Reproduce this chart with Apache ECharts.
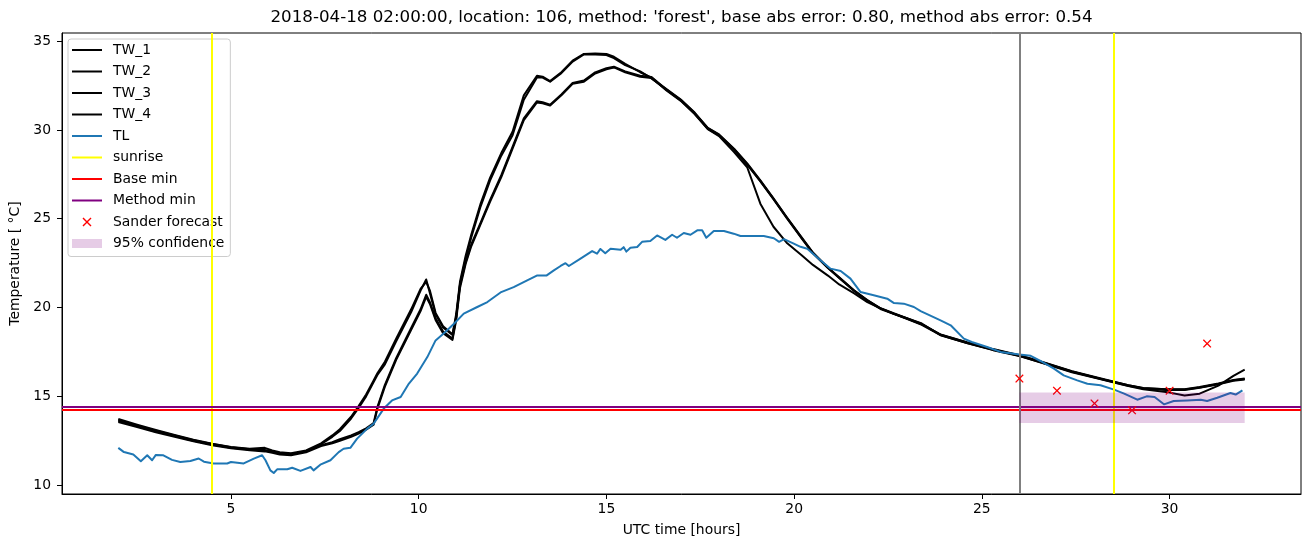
<!DOCTYPE html>
<html><head><meta charset="utf-8">
<script src="https://cdn.jsdelivr.net/npm/echarts@6/dist/echarts.min.js"></script>
<style>html,body{margin:0;padding:0;background:#fff}#c{width:1310px;height:547px}</style>
</head><body><div id="c"></div>
<script>
// ---------------- data ----------------
const titleText = "2018-04-18 02:00:00, location: 106, method: 'forest', base abs error: 0.80, method abs error: 0.54";
const xTicks = [5, 10, 15, 20, 25, 30];
const yTicks = [10, 15, 20, 25, 30, 35];

const twHours = [2.0, 2.5, 3.0, 3.5, 4.0, 4.5, 5.0, 5.5, 5.9, 6.1, 6.3, 6.6, 7.0, 7.4, 7.7, 7.9, 8.2, 8.4, 8.6, 8.8, 8.9, 9.1, 9.4, 9.8, 10.05, 10.2, 10.3, 10.45, 10.65, 10.9, 11.0, 11.1, 11.25, 11.4, 11.65, 11.9, 12.2, 12.5, 12.8, 13.15, 13.3, 13.5, 13.8, 14.1, 14.4, 14.7, 15.0, 15.2, 15.5, 15.9, 16.2, 16.6, 17.0, 17.35, 17.7, 18.0, 18.4, 18.75, 19.1, 19.45, 19.8, 20.2, 20.5, 20.9, 21.2, 21.6, 21.95, 22.3, 22.65, 23.0, 23.4, 23.9, 24.6, 25.3, 26.0, 26.7, 27.4, 28.2, 28.9, 29.3, 29.9, 30.4, 30.8, 31.3, 31.7, 32.0];

const tw1 = [13.62, 13.32, 13.02, 12.76, 12.5, 12.28, 12.1, 12.0, 11.93, 11.88, 11.78, 11.72, 11.9, 12.3, 12.72, 13.05, 13.75, 14.35, 15.0, 15.8, 16.2, 16.8, 18.1, 19.75, 20.95, 21.58, 20.8, 19.62, 18.88, 18.45, 19.65, 21.45, 22.9, 24.1, 25.85, 27.3, 28.7, 29.9, 31.95, 33.05, 33.0, 32.75, 33.25, 33.9, 34.28, 34.3, 34.28, 34.12, 33.72, 33.25, 32.95, 32.22, 31.6, 30.9, 30.05, 29.65, 28.75, 27.9, 25.85, 24.55, 23.65, 22.95, 22.4, 21.8, 21.3, 20.8, 20.3, 19.95, 19.65, 19.4, 19.1, 18.45, 18.0, 17.62, 17.28, 16.82, 16.36, 15.94, 15.58, 15.4, 15.25, 15.05, 15.15, 15.6, 16.15, 16.5];

const tw2 = [13.72, 13.4, 13.1, 12.82, 12.56, 12.33, 12.15, 12.05, 12.1, 11.95, 11.85, 11.8, 11.95, 12.35, 12.8, 13.15, 13.85, 14.45, 15.1, 15.9, 16.3, 16.95, 18.25, 19.9, 21.05, 21.45, 20.95, 19.7, 18.95, 18.5, 19.5, 21.3, 22.75, 23.95, 25.7, 27.15, 28.55, 29.7, 31.7, 32.95, 32.95, 32.72, 33.2, 33.85, 34.25, 34.25, 34.22, 34.05, 33.65, 33.3, 32.9, 32.3, 31.68, 30.98, 30.12, 29.75, 28.95, 28.12, 27.16, 26.15, 25.1, 23.95, 23.1, 22.25, 21.68, 20.95, 20.4, 19.95, 19.66, 19.38, 19.05, 18.48, 18.05, 17.66, 17.32, 16.88, 16.42, 15.99, 15.62, 15.46, 15.4, 15.4, 15.52, 15.72, 15.92, 16.0];

const tw3 = [13.55, 13.27, 12.98, 12.72, 12.47, 12.25, 12.08, 11.96, 11.9, 11.82, 11.72, 11.68, 11.85, 12.2, 12.35, 12.5, 12.72, 12.9, 13.12, 13.4, 14.3, 15.55, 17.05, 18.75, 19.8, 20.6, 20.2, 19.3, 18.55, 18.18, 19.3, 21.1, 22.45, 23.45, 24.7, 25.95, 27.35, 28.95, 30.55, 31.55, 31.5, 31.38, 31.95, 32.6, 32.72, 33.18, 33.42, 33.52, 33.25, 33.0, 32.92, 32.25, 31.63, 30.92, 30.06, 29.7, 28.88, 28.05, 27.1, 26.1, 25.05, 23.9, 23.05, 22.22, 21.66, 20.93, 20.38, 19.92, 19.64, 19.36, 19.03, 18.44, 18.0, 17.6, 17.27, 16.83, 16.38, 15.96, 15.6, 15.44, 15.36, 15.36, 15.48, 15.68, 15.88, 15.95];

const tw4 = [13.66, 13.36, 13.06, 12.79, 12.53, 12.31, 12.13, 12.02, 11.98, 11.9, 11.8, 11.75, 11.9, 12.25, 12.42, 12.58, 12.8, 12.98, 13.2, 13.5, 14.4, 15.65, 17.15, 18.85, 19.9, 20.72, 20.3, 19.4, 18.65, 18.25, 19.45, 21.25, 22.55, 23.55, 24.78, 26.05, 27.45, 29.05, 30.65, 31.62, 31.56, 31.42, 32.0, 32.65, 32.78, 33.24, 33.48, 33.56, 33.3, 33.05, 32.98, 32.28, 31.66, 30.95, 30.1, 29.72, 28.92, 28.08, 27.13, 26.12, 25.08, 23.92, 23.08, 22.24, 21.7, 20.96, 20.42, 19.96, 19.68, 19.4, 19.07, 18.47, 18.03, 17.64, 17.3, 16.86, 16.4, 15.97, 15.63, 15.47, 15.4, 15.38, 15.5, 15.7, 15.9, 15.97];

const tlHours = [2.0, 2.15, 2.4, 2.6, 2.77, 2.9, 3.0, 3.2, 3.43, 3.65, 3.92, 4.14, 4.28, 4.54, 4.9, 5.0, 5.34, 5.61, 5.83, 5.92, 6.05, 6.14, 6.23, 6.5, 6.63, 6.85, 7.12, 7.2, 7.38, 7.65, 7.87, 8.0, 8.18, 8.36, 8.63, 8.8, 9.07, 9.29, 9.52, 9.74, 9.96, 10.23, 10.45, 10.71, 10.94, 11.2, 11.56, 11.83, 12.18, 12.53, 12.89, 13.16, 13.41, 13.6, 13.78, 13.91, 14.0, 14.31, 14.62, 14.75, 14.84, 14.97, 15.11, 15.38, 15.46, 15.53, 15.64, 15.82, 15.95, 16.17, 16.35, 16.57, 16.75, 16.88, 17.06, 17.24, 17.42, 17.55, 17.66, 17.86, 18.13, 18.39, 18.57, 19.19, 19.46, 19.6, 19.73, 19.99, 20.17, 20.35, 20.7, 20.97, 21.24, 21.5, 21.77, 22.12, 22.48, 22.66, 22.92, 23.19, 23.37, 23.9, 24.17, 24.52, 24.73, 25.14, 25.5, 26.0, 26.3, 26.56, 26.92, 27.18, 27.54, 27.81, 28.16, 28.52, 28.79, 29.14, 29.39, 29.6, 29.85, 30.11, 30.47, 30.83, 31.0, 31.27, 31.62, 31.76, 31.94];
const tlTemps = [12.1, 11.86, 11.72, 11.35, 11.68, 11.4, 11.7, 11.68, 11.42, 11.3, 11.36, 11.5, 11.32, 11.22, 11.22, 11.3, 11.22, 11.49, 11.68, 11.4, 10.83, 10.68, 10.89, 10.89, 10.98, 10.8, 11.02, 10.83, 11.15, 11.4, 11.86, 12.05, 12.1, 12.62, 13.18, 13.46, 14.31, 14.77, 14.96, 15.72, 16.28, 17.21, 18.15, 18.62, 19.09, 19.66, 20.03, 20.31, 20.85, 21.15, 21.53, 21.81, 21.81, 22.09, 22.34, 22.5, 22.34, 22.75, 23.18, 23.03, 23.3, 23.06, 23.31, 23.25, 23.4, 23.15, 23.37, 23.41, 23.7, 23.75, 24.06, 23.81, 24.1, 23.93, 24.2, 24.1, 24.35, 24.35, 23.93, 24.31, 24.31, 24.16, 24.03, 24.03, 23.9, 23.7, 23.85, 23.6, 23.42, 23.31, 22.66, 22.19, 22.06, 21.63, 20.87, 20.69, 20.5, 20.25, 20.22, 20.03, 19.8, 19.28, 19.0, 18.25, 18.06, 17.78, 17.5, 17.35, 17.28, 16.99, 16.56, 16.18, 15.9, 15.71, 15.62, 15.38, 15.15, 14.81, 15.0, 14.96, 14.55, 14.74, 14.77, 14.81, 14.74, 14.92, 15.19, 15.1, 15.34];

const sunriseHours = [4.5, 28.5];
const forecastStartHour = 26;
const baseMin = 14.23;
const methodMin = 14.44;
const forecastHours = [26, 27, 28, 29, 30, 31];
const forecastTemps = [16.0, 15.32, 14.6, 14.21, 15.32, 17.97];
const confHours = [26, 32];
const confTemps = [13.5, 15.22];

// ---------------- chart ----------------
const FONT = 'DejaVu Sans';
const pairs = (xs, ys) => xs.map((x, i) => [x, ys[i]]);
const lineIcon = 'path://M0,0 L30,0 L30,2 L0,2 Z';
const xPath = 'path://M0,1.1 L1.1,0 L5,3.9 L8.9,0 L10,1.1 L6.1,5 L10,8.9 L8.9,10 L5,6.1 L1.1,10 L0,8.9 L3.9,5 Z';
const bandColor = 'rgba(128,0,128,0.2)';

function twSeries(name, ys) {
  return {
    name, type: 'line', data: pairs(twHours, ys), symbol: 'none', z: 2,
    itemStyle: { color: '#000000' },
    lineStyle: { color: '#000000', width: 2, join: 'round' },
    animation: false
  };
}
function markLineSeries(name, color, lines, z) {
  return {
    name, type: 'line', data: [], symbol: 'none', z: z,
    itemStyle: { color }, lineStyle: { color, width: 2 },
    markLine: {
      silent: true, symbol: ['none', 'none'], label: { show: false }, z: z,
      lineStyle: { color, width: 2, type: 'solid' },
      data: lines
    },
    animation: false
  };
}

const chart = echarts.init(document.getElementById('c'), null, { renderer: 'canvas' });
chart.setOption({
  animation: false,
  backgroundColor: '#ffffff',
  title: {
    text: titleText, left: 681.5, top: 9, textAlign: 'center', padding: 0,
    textStyle: { fontFamily: FONT, fontSize: 16.7, fontWeight: 'normal', color: '#000' }
  },
  grid: { left: 62, right: 9, top: 33, bottom: 53, show: true, borderColor: '#000', borderWidth: 1, backgroundColor: 'transparent' },
  legend: {
    orient: 'vertical', left: 68, top: 39, padding: [4, 6, 6, 4],
    itemWidth: 30, itemHeight: 9, itemGap: 7.5,
    backgroundColor: 'rgba(255,255,255,0.8)', borderColor: '#cccccc', borderWidth: 1, borderRadius: 3,
    textStyle: { fontFamily: FONT, fontSize: 13.9, color: '#000', lineHeight: 14, padding: [0, 0, 0, 6] },
    selectedMode: false,
    data: [
      { name: 'TW_1', icon: lineIcon }, { name: 'TW_2', icon: lineIcon },
      { name: 'TW_3', icon: lineIcon }, { name: 'TW_4', icon: lineIcon },
      { name: 'TL', icon: lineIcon }, { name: 'sunrise', icon: lineIcon },
      { name: 'Base min', icon: lineIcon }, { name: 'Method min', icon: lineIcon },
      { name: 'Sander forecast', icon: xPath }, { name: '95% confidence', icon: 'rect' }
    ]
  },
  xAxis: {
    type: 'value', min: 0.5, max: 33.5,
    splitLine: { show: false },
    axisLine: { show: true, onZero: false, lineStyle: { color: '#000', width: 1 } },
    axisTick: { show: true, length: 5, lineStyle: { color: '#000', width: 1 }, customValues: xTicks },
    axisLabel: { customValues: xTicks, color: '#000', fontSize: 13.9, fontFamily: FONT, margin: 8 },
    name: 'UTC time [hours]', nameLocation: 'middle', nameGap: 29,
    nameTextStyle: { fontFamily: FONT, fontSize: 13.9, color: '#000' }
  },
  yAxis: {
    type: 'value', min: 9.5, max: 35.46,
    splitLine: { show: false },
    axisLine: { show: true, onZero: false, lineStyle: { color: '#000', width: 1 } },
    axisTick: { show: true, length: 5, lineStyle: { color: '#000', width: 1 }, customValues: yTicks },
    axisLabel: { customValues: yTicks, color: '#000', fontSize: 13.9, fontFamily: FONT, margin: 11 },
    name: 'Temperature [ \u00B0C]', nameLocation: 'middle', nameGap: 33, nameRotate: 90,
    nameTextStyle: { fontFamily: FONT, fontSize: 13.9, color: '#000' }
  },
  series: [
    twSeries('TW_1', tw1), twSeries('TW_2', tw2), twSeries('TW_3', tw3), twSeries('TW_4', tw4),
    {
      name: 'TL', type: 'line', data: pairs(tlHours, tlTemps), symbol: 'none', z: 3,
      itemStyle: { color: '#1f77b4' }, lineStyle: { color: '#1f77b4', width: 2, join: 'round' }, animation: false
    },
    markLineSeries('sunrise', '#ffff00', sunriseHours.map(h => ({ xAxis: h })), 5),
    markLineSeries('Base min', '#ff0000', [{ yAxis: baseMin }], 5),
    markLineSeries('Method min', '#800080', [{ yAxis: methodMin }], 5),
    {
      name: 'Sander forecast', type: 'scatter', data: pairs(forecastHours, forecastTemps),
      symbol: xPath, symbolSize: 8.5, z: 6,
      itemStyle: { color: '#ff0000', opacity: 1 }, animation: false
    },
    {
      name: '95% confidence', type: 'line', data: [], symbol: 'none', z: 7,
      itemStyle: { color: bandColor }, lineStyle: { color: bandColor, width: 0 },
      markArea: {
        silent: true, z: 7, label: { show: false },
        itemStyle: { color: bandColor },
        data: [[{ xAxis: confHours[0], yAxis: confTemps[0] }, { xAxis: confHours[1], yAxis: confTemps[1] }]]
      },
      animation: false
    },
    markLineSeries('forecast start', '#808080', [{ xAxis: forecastStartHour }], 5)
  ]
});
</script>
</body></html>
